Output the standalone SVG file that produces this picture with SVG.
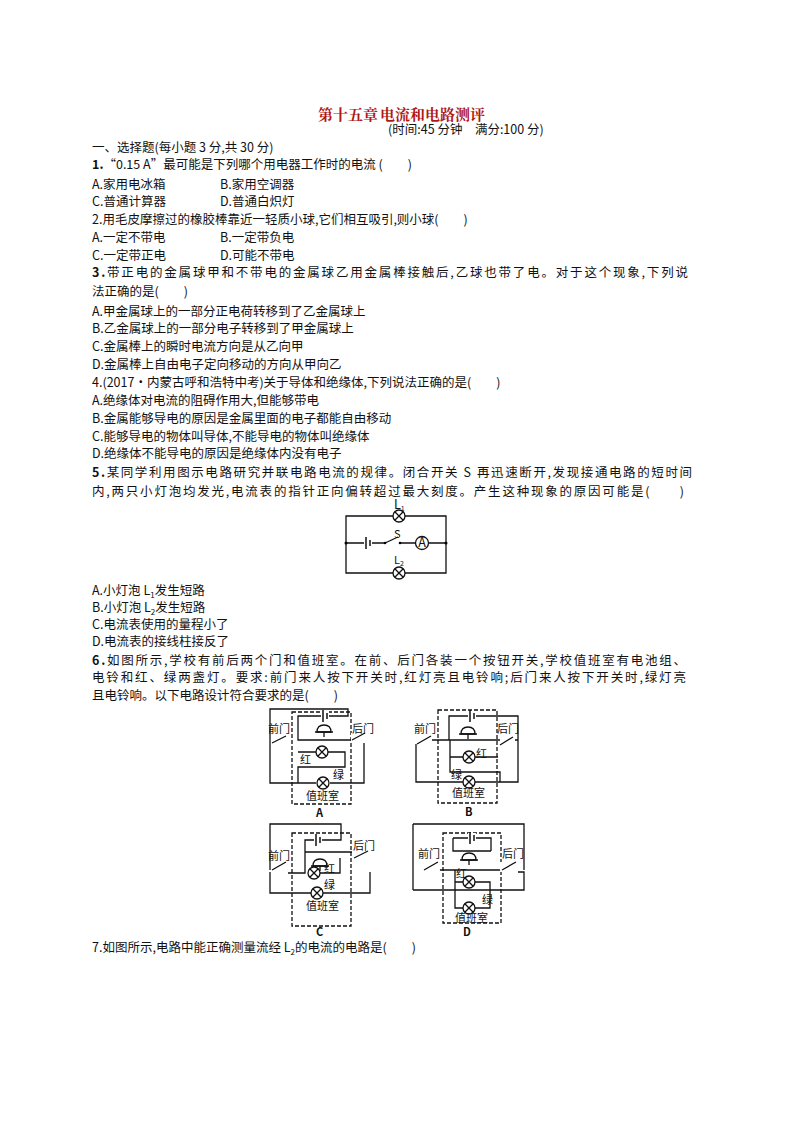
<svg xmlns="http://www.w3.org/2000/svg" xmlns:xlink="http://www.w3.org/1999/xlink" width="794" height="1123" viewBox="0 0 794 1123">
<style>
text{font-family:"Noto Sans CJK SC","Liberation Serif",sans-serif;font-size:12.5px;fill:#111}
.t{font-size:15px;font-weight:bold;fill:#b01818;font-family:"Noto Serif CJK SC","Noto Sans CJK SC",serif}
.s{font-size:11px}
.w{fill:none;stroke:#111;stroke-width:1.3}
.d{fill:none;stroke:#111;stroke-width:1.3;stroke-dasharray:4 2}
</style>
<defs>
<g id="lamp"><circle r="6" fill="#fff" stroke="#111" stroke-width="1.3"/><path d="M-4.2,-4.2L4.2,4.2M4.2,-4.2L-4.2,4.2" stroke="#111" stroke-width="1.3"/></g>
<g id="bell"><path d="M-7,0 Q-7,-7 0,-7 Q7,-7 7,0 Z" fill="#fff" stroke="#111" stroke-width="1.3"/><path d="M-9,0H9M0,0V5" stroke="#111" stroke-width="1.3"/></g>
<g id="bat"><rect x="-4" y="-5" width="8" height="10" fill="#fff"/><path d="M-2,-6V6M2,-3V3" stroke="#111" stroke-width="1.5"/></g>
</defs>
<rect width="794" height="1123" fill="#fff"/>
<g id="text">
<text class="t" x="318" y="120">第十五章</text><text class="t" x="380" y="120">电流和电路测评</text>
<text x="388" y="134" font-size="11">(时间:45 分钟　满分:100 分)</text>
<text x="92" y="152">一、选择题(每小题 3 分,共 30 分)</text>
<text x="92" y="169"><tspan font-weight="bold">1.</tspan>“0.15 A”最可能是下列哪个用电器工作时的电流 (　　)</text>
<text x="92" y="189">A.家用电冰箱</text><text x="220" y="189">B.家用空调器</text>
<text x="92" y="206">C.普通计算器</text><text x="220" y="206">D.普通白炽灯</text>
<text x="92" y="224">2.用毛皮摩擦过的橡胶棒靠近一轻质小球,它们相互吸引,则小球(　　)</text>
<text x="92" y="242">A.一定不带电</text><text x="220" y="242">B.一定带负电</text>
<text x="92" y="260">C.一定带正电</text><text x="220" y="260">D.可能不带电</text>
<text x="92" y="277" textLength="596"><tspan font-weight="bold">3.</tspan>带正电的金属球甲和不带电的金属球乙用金属棒接触后,乙球也带了电。对于这个现象,下列说</text>
<text x="92" y="296">法正确的是(　　)</text>
<text x="92" y="316">A.甲金属球上的一部分正电荷转移到了乙金属球上</text>
<text x="92" y="333">B.乙金属球上的一部分电子转移到了甲金属球上</text>
<text x="92" y="351">C.金属棒上的瞬时电流方向是从乙向甲</text>
<text x="92" y="369">D.金属棒上自由电子定向移动的方向从甲向乙</text>
<text x="92" y="387">4.(2017·内蒙古呼和浩特中考)关于导体和绝缘体,下列说法正确的是(　　)</text>
<text x="92" y="405">A.绝缘体对电流的阻碍作用大,但能够带电</text>
<text x="92" y="423">B.金属能够导电的原因是金属里面的电子都能自由移动</text>
<text x="92" y="441">C.能够导电的物体叫导体,不能导电的物体叫绝缘体</text>
<text x="92" y="458">D.绝缘体不能导电的原因是绝缘体内没有电子</text>
<text x="92" y="477" textLength="600"><tspan font-weight="bold">5.</tspan>某同学利用图示电路研究并联电路电流的规律。闭合开关 S 再迅速断开,发现接通电路的短时间</text>
<text x="92" y="496" textLength="592">内,两只小灯泡均发光,电流表的指针正向偏转超过最大刻度。产生这种现象的原因可能是(　　)</text>
<text x="92" y="595">A.小灯泡 L<tspan font-size="8" dy="3">1</tspan><tspan dy="-3">发生短路</tspan></text>
<text x="92" y="612">B.小灯泡 L<tspan font-size="8" dy="3">2</tspan><tspan dy="-3">发生短路</tspan></text>
<text x="92" y="629">C.电流表使用的量程小了</text>
<text x="92" y="646">D.电流表的接线柱接反了</text>
<text x="92" y="665" textLength="594"><tspan font-weight="bold">6.</tspan>如图所示,学校有前后两个门和值班室。在前、后门各装一个按钮开关,学校值班室有电池组、</text>
<text x="92" y="682" textLength="594">电铃和红、绿两盏灯。要求:前门来人按下开关时,红灯亮且电铃响;后门来人按下开关时,绿灯亮</text>
<text x="92" y="700">且电铃响。以下电路设计符合要求的是(　　)</text>
<text x="92" y="952">7.如图所示,电路中能正确测量流经 L<tspan font-size="8" dy="3">2</tspan><tspan dy="-3">的电流的电路是(　　)</tspan></text>
</g>
<g id="q5">
<path class="w" d="M346,516H446V573H346Z M346,543H446"/>
<use xlink:href="#lamp" x="399" y="516"/><use xlink:href="#lamp" x="399" y="573"/>
<use xlink:href="#bat" x="368" y="543"/>
<rect x="385" y="539" width="15" height="8" fill="#fff"/>
<path class="w" d="M385,543L398,537"/><circle cx="385" cy="543" r="1.3"/><circle cx="400" cy="543" r="1.3"/>
<circle cx="422" cy="543" r="6.5" fill="#fff" stroke="#111" stroke-width="1.3"/>
<text x="422" y="547" text-anchor="middle" font-size="9" font-family="Liberation Serif">A</text>
<circle cx="346" cy="543" r="1.5"/><circle cx="446" cy="543" r="1.5"/>
<text x="394" y="509" font-size="10" font-family="Liberation Serif">L<tspan font-size="7" dy="2">1</tspan></text>
<text x="394" y="564" class="s" font-family="Liberation Serif">L<tspan font-size="7" dy="2">2</tspan></text>
<text x="394" y="538" class="s" font-family="Liberation Serif">S</text>
</g>
<g id="circA">
<rect class="d" x="292" y="712" width="59" height="92"/>
<path class="w" d="M270,743V709H348V716H298V740H352 M364,740V783H330 M316,783H270V743 M298,752H345V767H298V783"/>
<use xlink:href="#bat" x="325" y="716"/><use xlink:href="#bell" x="324" y="732"/>
<use xlink:href="#lamp" x="322" y="752"/><use xlink:href="#lamp" x="323" y="783"/>
<rect x="271" y="735" width="20" height="10" fill="#fff"/><rect x="351" y="733" width="14" height="10" fill="#fff"/>
<path class="w" d="M272,743L286,736M352,740L365,733"/>
<text x="268" y="733" class="s">前门</text><text x="352" y="733" class="s">后门</text>
<text x="300" y="764" class="s">红</text><text x="333" y="779" class="s">绿</text>
<text x="306" y="800" class="s">值班室</text><text x="316" y="817" class="s" font-family="Liberation Serif" font-weight="bold">A</text>
</g>
<g id="circB">
<rect class="d" x="438" y="710" width="59" height="93"/>
<path class="w" d="M449,740V716H518V782H416V744 M432,740H500 M508,740H518 M450,740V757H498 M450,757V772H500V782"/>
<use xlink:href="#bat" x="472" y="716"/><use xlink:href="#bell" x="468" y="734"/>
<use xlink:href="#lamp" x="469" y="757"/><use xlink:href="#lamp" x="469" y="782"/>
<rect x="417" y="735" width="15" height="10" fill="#fff"/><rect x="500" y="733" width="15" height="10" fill="#fff"/>
<path class="w" d="M417,744L431,736M500,745L513,737"/>
<text x="414" y="733" class="s">前门</text><text x="497" y="733" class="s">后门</text>
<text x="476" y="758" class="s">红</text><text x="451" y="779" class="s">绿</text>
<text x="452" y="797" class="s">值班室</text><text x="465" y="816" class="s" font-family="Liberation Serif" font-weight="bold">B</text>
</g>
<g id="circC">
<rect class="d" x="292" y="833" width="59" height="93"/>
<path class="w" d="M270,870V824H341V840H305V852H352 M305,852V873H288 M314,873H340V858 M370,872V893H270V872"/>
<use xlink:href="#bat" x="318" y="840"/><use xlink:href="#bell" x="320" y="866"/>
<use xlink:href="#lamp" x="314" y="873"/><use xlink:href="#lamp" x="317" y="893"/>
<rect x="271" y="862" width="15" height="10" fill="#fff"/><rect x="352" y="850" width="18" height="10" fill="#fff"/>
<path class="w" d="M272,870L286,862M354,858L368,851"/>
<text x="268" y="860" class="s">前门</text><text x="353" y="850" class="s">后门</text>
<text x="324" y="873" class="s">红</text><text x="324" y="889" class="s">绿</text>
<text x="306" y="910" class="s">值班室</text><text x="316" y="936" class="s" font-family="Liberation Serif" font-weight="bold">C</text>
</g>
<g id="circD">
<rect class="d" x="443" y="833" width="58" height="90"/>
<path class="w" d="M413,824H524V870 M413,824V890 M518,872H524V890H413 M453,838H491V851 M453,838V851H491 M440,870H500 M455,870V882H490V908H455V882"/>
<use xlink:href="#bat" x="472" y="838"/><use xlink:href="#bell" x="469" y="860"/>
<use xlink:href="#lamp" x="469" y="882"/><use xlink:href="#lamp" x="469" y="908"/>
<rect x="414" y="862" width="24" height="10" fill="#fff"/><rect x="500" y="862" width="18" height="10" fill="#fff"/>
<path class="w" d="M424,870L438,862M502,870L516,862"/>
<text x="418" y="858" class="s">前门</text><text x="502" y="858" class="s">后门</text>
<text x="456" y="878" class="s">红</text><text x="482" y="904" class="s">绿</text>
<text x="455" y="922" class="s">值班室</text><text x="463" y="936" class="s" font-family="Liberation Serif" font-weight="bold">D</text>
</g>
</svg>
